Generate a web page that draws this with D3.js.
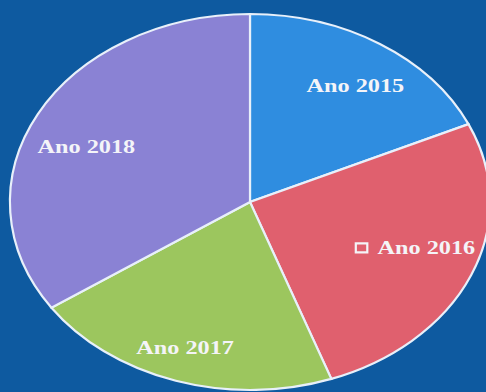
<!DOCTYPE html>
<html>
<head>
<meta charset="utf-8">
<script src="https://cdn.jsdelivr.net/npm/d3@7"></script>
<style>
  html, body { margin: 0; padding: 0; background: #0e5aa0; }
  svg { display: block; }
</style>
</head>
<body>
<svg id="chart" width="486" height="392"></svg>
<script>
// Share of records per year
const categories = ["Ano 2015", "Ano 2016", "Ano 2017", "Ano 2018"];
const values = [18.2, 26.3, 21.0, 34.5];
const colors = ["#2f8de0", "#e0606e", "#9cc65e", "#8a82d4"];
const markedCategory = "Ano 2016";   // label drawn with a small square marker

const width = 486, height = 392;
const cx = 250, cy = 202;
const radius = 188;
const stretchX = 1.277;              // the pie is drawn wide, as an ellipse
const labelRadius = 145;
// small layout nudges for each label, in pie units [dx, dy]
const labelNudge = [[4, 6], [-4, -10], [-6, 8], [0, 13]];

const svg = d3.select("#chart");

svg.append("rect")
  .attr("width", width).attr("height", height)
  .attr("fill", "#0e5aa0");

const g = svg.append("g")
  .attr("transform", `translate(${cx},${cy}) scale(${stretchX},1)`);

const data = categories.map((c, i) => ({ name: c, value: values[i], color: colors[i] }));

const pie = d3.pie().sort(null).value(d => d.value);
const arc = d3.arc().innerRadius(0).outerRadius(radius);
const labelArc = d3.arc().innerRadius(labelRadius).outerRadius(labelRadius);

const arcs = pie(data);

g.selectAll("path.slice")
  .data(arcs)
  .enter().append("path")
  .attr("class", "slice")
  .attr("d", arc)
  .attr("fill", d => d.data.color)
  .attr("stroke", "#e8f0fa")
  .attr("stroke-width", 2.2)
  .attr("vector-effect", "non-scaling-stroke");

const labels = g.selectAll("g.label")
  .data(arcs)
  .enter().append("g")
  .attr("class", "label")
  .attr("transform", (d, i) => {
    const [x, y] = labelArc.centroid(d);
    return `translate(${x + labelNudge[i][0]},${y + labelNudge[i][1]})`;
  });

labels.each(function (d) {
  const sel = d3.select(this);
  const marked = d.data.name === markedCategory;
  const text = sel.append("text")
    .text(d.data.name)
    .attr("font-family", "'Liberation Serif', 'DejaVu Serif', serif")
    .attr("font-size", 19)
    .attr("font-weight", "bold")
    .attr("fill", "#f4f4f8")
    .attr("dominant-baseline", "central");
  if (marked) {
    const tw = text.node().getComputedTextLength();
    const box = 9, gap = 8;
    const total = box + gap + tw;
    sel.append("rect")
      .attr("x", -total / 2)
      .attr("y", -5)
      .attr("width", box)
      .attr("height", 9)
      .attr("fill", d.data.color)
      .attr("stroke", "#f4f4f8")
      .attr("stroke-width", 2.2)
      .attr("vector-effect", "non-scaling-stroke");
    text.attr("x", -total / 2 + box + gap).attr("text-anchor", "start");
  } else {
    text.attr("text-anchor", "middle");
  }
});
</script>
</body>
</html>
